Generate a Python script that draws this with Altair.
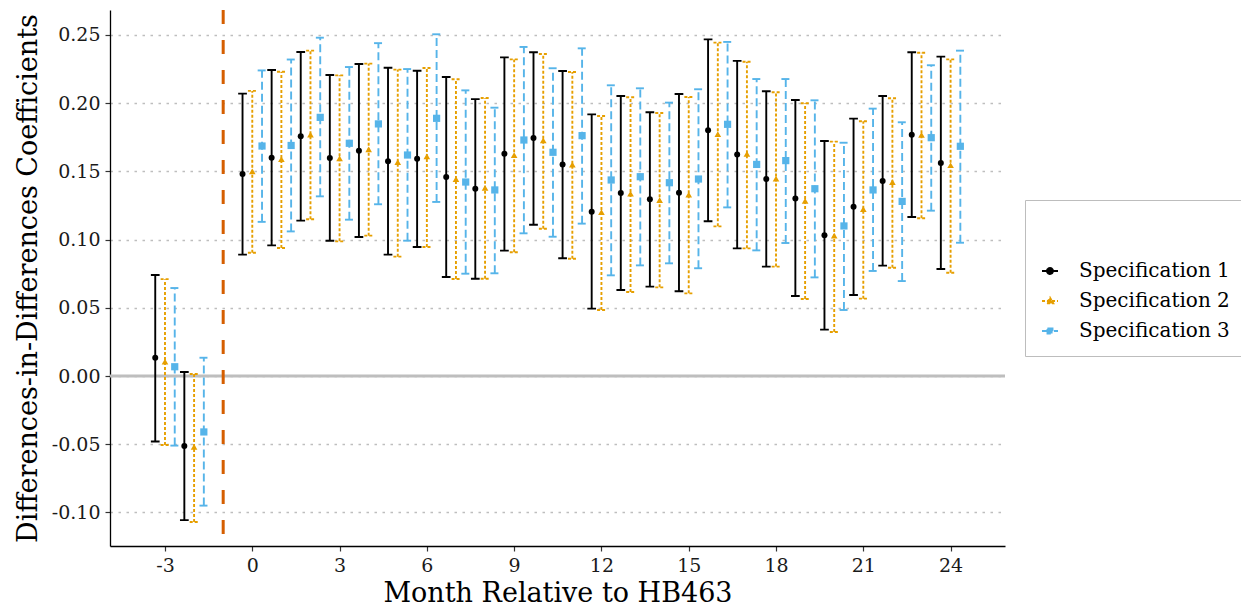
import altair as alt
import pandas as pd

# ---------------- data ----------------
months = [-3, -2, 0, 1, 2, 3, 4, 5, 6, 7, 8, 9, 10, 11, 12, 13, 14, 15, 16, 17, 18, 19, 20, 21, 22, 23, 24]
specs = ["Specification 1", "Specification 2", "Specification 3"]

spec1_est = [0.0134, -0.0513, 0.148, 0.160, 0.1757, 0.1598, 0.1652, 0.1574, 0.1593, 0.1459, 0.1373, 0.163, 0.1745,
             0.1551, 0.1205, 0.1342, 0.1295, 0.1344, 0.1802, 0.1623, 0.1444, 0.1302, 0.1031, 0.1241, 0.143, 0.1769, 0.1562]
spec1_lo = [-0.048, -0.1056, 0.089, 0.0958, 0.1139, 0.0992, 0.1019, 0.089, 0.0946, 0.0726, 0.0713, 0.0919, 0.1109,
            0.0863, 0.0494, 0.063, 0.0655, 0.0621, 0.1134, 0.0936, 0.0802, 0.0587, 0.034, 0.0594, 0.0809, 0.1166, 0.0784]
spec1_hi = [0.074, 0.003, 0.207, 0.2243, 0.2375, 0.2207, 0.2287, 0.226, 0.2238, 0.2192, 0.203, 0.2336, 0.2373,
            0.2236, 0.1918, 0.2053, 0.1933, 0.2067, 0.2468, 0.231, 0.2087, 0.2023, 0.1723, 0.1887, 0.2053, 0.2373, 0.2341]

spec2_est = [0.0105, -0.052, 0.150, 0.159, 0.177, 0.1596, 0.1662, 0.1567, 0.161, 0.1444, 0.138, 0.162, 0.1728,
             0.155, 0.1202, 0.1337, 0.129, 0.133, 0.1774, 0.1628, 0.1447, 0.1283, 0.103, 0.1224, 0.1422, 0.1767, 0.1545]
spec2_lo = [-0.0506, -0.107, 0.0904, 0.0938, 0.1149, 0.0987, 0.1029, 0.0875, 0.0946, 0.0711, 0.0713, 0.0907, 0.108,
            0.086, 0.0484, 0.0616, 0.065, 0.0606, 0.1097, 0.0936, 0.0802, 0.0565, 0.0323, 0.0567, 0.0794, 0.1156, 0.0757]
spec2_hi = [0.071, 0.0015, 0.209, 0.223, 0.2385, 0.2204, 0.229, 0.2246, 0.2258, 0.2175, 0.2038, 0.2321, 0.236,
            0.2229, 0.1906, 0.2043, 0.1928, 0.2045, 0.2444, 0.2304, 0.208, 0.1999, 0.1718, 0.1867, 0.2036, 0.237, 0.2321]

spec3_est = [0.0068, -0.041, 0.1686, 0.169, 0.1896, 0.1706, 0.1848, 0.162, 0.1889, 0.1422, 0.1364, 0.173, 0.164,
             0.1762, 0.1437, 0.1461, 0.1417, 0.1444, 0.1845, 0.1551, 0.1579, 0.1373, 0.11, 0.1364, 0.128, 0.1747, 0.1684]
spec3_lo = [-0.051, -0.095, 0.113, 0.106, 0.1317, 0.1146, 0.1259, 0.0992, 0.1276, 0.075, 0.0753, 0.1046, 0.1021,
            0.1117, 0.0738, 0.0811, 0.0826, 0.079, 0.1236, 0.0921, 0.0975, 0.0723, 0.0484, 0.077, 0.0696, 0.1212, 0.0977]
spec3_hi = [0.0645, 0.0134, 0.224, 0.232, 0.248, 0.2265, 0.244, 0.225, 0.2505, 0.2094, 0.1967, 0.2412, 0.2256,
            0.2402, 0.2131, 0.2109, 0.2004, 0.2102, 0.2449, 0.2177, 0.2177, 0.2021, 0.171, 0.196, 0.186, 0.2278, 0.2385]

x_ticks = [-3, 0, 3, 6, 9, 12, 15, 18, 21, 24]
y_ticks = [-0.10, -0.05, 0.00, 0.05, 0.10, 0.15, 0.20, 0.25]
event_month = [-1]
zero_line = [0]

rows = []
for s, est, lo, hi in zip(specs, [spec1_est, spec2_est, spec3_est],
                          [spec1_lo, spec2_lo, spec3_lo], [spec1_hi, spec2_hi, spec3_hi]):
    for m, e, l, h in zip(months, est, lo, hi):
        rows.append({"month": m, "spec": s, "est": e, "lo": l, "hi": h})
df = pd.DataFrame(rows)

# ---------------- styling ----------------
FONT = "DejaVu Serif"
colors = ["#000000", "#E69F00", "#56B4E9"]
dashes = [[1, 0], [3, 2], [8, 4]]
shapes = ["circle", "triangle-up", "square"]
sizes = [36, 52, 30]
legend_paths = [
    "M-1,0H1M0.38,0A0.38,0.38 0 1,1 -0.38,0A0.38,0.38 0 1,1 0.38,0Z",
    "M-1,0H1M0,-0.42L0.42,0.3L-0.42,0.3Z",
    "M-1,0H1M-0.32,-0.32H0.32V0.32H-0.32Z",
]

xscale = alt.Scale(domain=[-4.89, 25.87], nice=False, zero=False)
yscale = alt.Scale(domain=[-0.1246, 0.2683], nice=False, zero=False)
cscale = alt.Scale(domain=specs, range=colors)
dscale = alt.Scale(domain=specs, range=dashes)

xaxis = alt.Axis(values=x_ticks, title="Month Relative to HB463", grid=False,
                 labelExpr="replace(format(datum.value, 'd'), '\u2212', '-')")
yaxis = alt.Axis(values=y_ticks, title="Differences-in-Differences Coefficients", grid=True,
                 labelExpr="replace(format(datum.value, '.2f'), '\u2212', '-')")

base = alt.Chart(df).transform_calculate(
    xpos="datum.month + (datum.spec === 'Specification 1' ? -0.335 : (datum.spec === 'Specification 2' ? 0 : 0.335))"
).transform_calculate(
    xl="datum.xpos - 0.15", xr="datum.xpos + 0.15"
)

X = alt.X("xpos:Q", scale=xscale, axis=xaxis)
color_nl = alt.Color("spec:N", scale=cscale, legend=None)
dash_nl = alt.StrokeDash("spec:N", scale=dscale, legend=None)

zero = alt.Chart(pd.DataFrame({"v": zero_line})).mark_rule(color="#BEBEBE", strokeWidth=3).encode(
    y=alt.Y("v:Q", scale=yscale, axis=yaxis)
)

vline = alt.Chart(pd.DataFrame({"v": event_month})).mark_rule(
    color="#D55E00", strokeWidth=3, strokeDash=[14, 16]
).encode(x=alt.X("v:Q", scale=xscale, axis=xaxis))

bars = base.mark_rule(strokeWidth=1.9).encode(
    x=X, y=alt.Y("lo:Q", scale=yscale, axis=yaxis), y2="hi:Q",
    color=color_nl, strokeDash=dash_nl,
)
cap_lo = base.mark_rule(strokeWidth=1.9).encode(
    x=alt.X("xl:Q", scale=xscale, axis=xaxis), x2="xr:Q",
    y=alt.Y("lo:Q", scale=yscale, axis=yaxis), color=color_nl, strokeDash=dash_nl,
)
cap_hi = base.mark_rule(strokeWidth=1.9).encode(
    x=alt.X("xl:Q", scale=xscale, axis=xaxis), x2="xr:Q",
    y=alt.Y("hi:Q", scale=yscale, axis=yaxis), color=color_nl, strokeDash=dash_nl,
)
points = base.mark_point(filled=True, opacity=1).encode(
    x=X, y=alt.Y("est:Q", scale=yscale, axis=yaxis),
    color=color_nl,
    shape=alt.Shape("spec:N", scale=alt.Scale(domain=specs, range=shapes), legend=None),
    size=alt.Size("spec:N", scale=alt.Scale(domain=specs, range=sizes), legend=None),
)

legend = alt.Legend(
    title=" ", orient="none", legendX=915, legendY=190,
    padding=15, strokeColor="#BDBDBD", fillColor="#FFFFFF",
    labelFont=FONT, labelFontSize=20, labelColor="#000000", labelOffset=19,
    titleFont=FONT, titleFontSize=20, titlePadding=26,
    symbolSize=256, symbolStrokeWidth=1.8, symbolOpacity=1, rowPadding=10,
)
legend_layer = base.transform_filter("false").mark_point(filled=True, opacity=1, size=256, strokeWidth=1.8).encode(
    x=X, y=alt.Y("est:Q", scale=yscale, axis=yaxis),
    color=alt.Color("spec:N", scale=cscale, legend=legend),
    stroke=alt.Stroke("spec:N", scale=cscale, legend=legend),
    strokeDash=alt.StrokeDash("spec:N", scale=dscale, legend=legend),
    shape=alt.Shape("spec:N", scale=alt.Scale(domain=specs, range=legend_paths), legend=legend),
)

chart = alt.layer(zero, vline, bars, cap_lo, cap_hi, points, legend_layer).resolve_scale(
    color="independent", shape="independent", strokeDash="independent", stroke="independent", size="independent"
).properties(
    width=895, height=536,
    autosize=alt.AutoSizeParams(type="none"),
    padding={"left": 110, "top": 10, "right": 236, "bottom": 65},
).configure_view(stroke=None).configure_axis(
    labelFont=FONT, titleFont=FONT, labelFontSize=19, titleFontSize=27,
    labelColor="#1a1a1a", titleColor="#000000", titleFontWeight="normal",
    domainColor="#000000", domainWidth=1.3, tickColor="#333333", tickWidth=1.2, tickSize=5,
    labelPadding=5, gridColor="#BEBEBE", gridDash=[2.5, 5.5], gridWidth=1.4,
).configure_axisX(titlePadding=5).configure_axisY(titlePadding=9)

chart.save("out.html", embed_options={"renderer": "svg", "actions": False})
